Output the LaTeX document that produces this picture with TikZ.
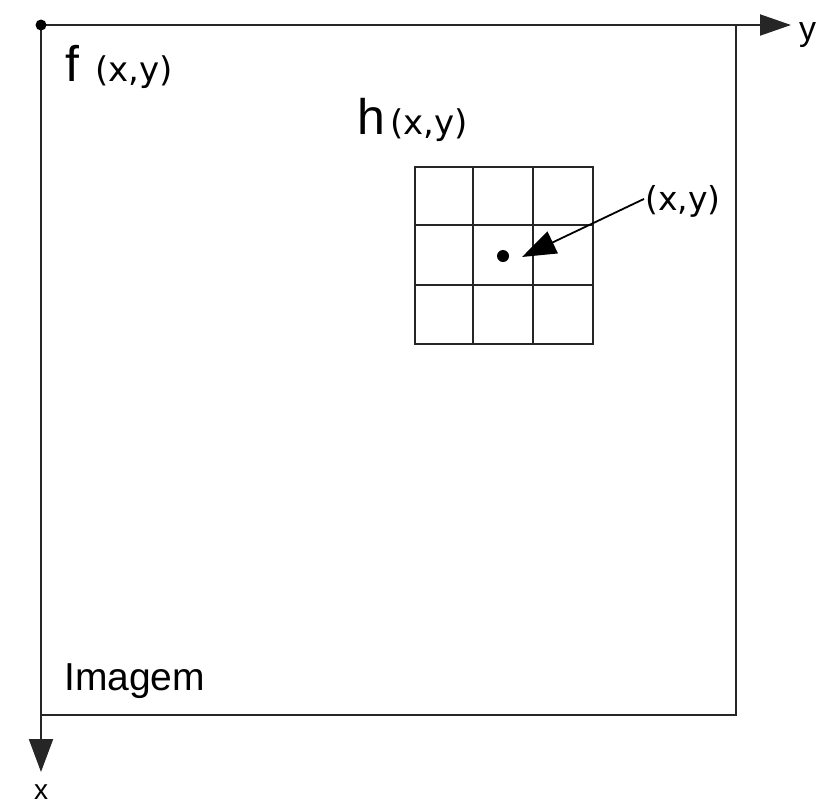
\documentclass[tikz,border=0pt]{standalone}
\usepackage{fontspec}
\setmainfont{Liberation Sans}
\newfontfamily\argfont{DejaVu Sans}
\usetikzlibrary{arrows.meta}
\begin{document}
\begin{tikzpicture}[x=1pt,y=-1pt,
  frame/.style={line width=2.4pt,black!85},
  gridline/.style={line width=2pt,black!85},
  axis/.style={line width=2pt,black!85},
  lbl/.style={inner sep=0pt,anchor=base west}]
\useasboundingbox (0,0) rectangle (819,807);
% origin and frame
\coordinate (O) at (41,25);
\coordinate (TR) at (736,25);
\coordinate (BR) at (736,715);
\coordinate (BL) at (41,715);
\coordinate (Yend) at (791,25);
\coordinate (Xend) at (41,772);
\draw[frame] (TR) -- (BR) -- (BL);
\draw[axis,-{Triangle[length=31pt,width=21pt]}] (O) -- (Yend);
\draw[axis,-{Triangle[length=33pt,width=24pt]}] (O) -- (Xend);
\fill (O) circle (5.5);
\node[lbl,font=\fontsize{34}{34}\selectfont] (ylab) at (799,40) {y};
\node[lbl,font=\fontsize{28}{28}\selectfont] (xlab) at (34,799) {x};
% labels
\node[lbl] (flab) at (65,81) {\fontsize{50}{50}\selectfont f\hspace{16pt}\argfont\fontsize{34}{34}\selectfont(x,y)};
\node[lbl] (hlab) at (357,134) {\fontsize{50}{50}\selectfont h\hspace{5pt}\argfont\fontsize{34}{34}\selectfont(x,y)};
\node[lbl,font=\fontsize{39}{39}\selectfont] (img) at (64,690) {Imagem};
% grid
\draw[gridline] (415,167) rectangle (593,344);
\draw[gridline] (473,167) -- (473,344);
\draw[gridline] (533,167) -- (533,344);
\draw[gridline] (415,225) -- (593,225);
\draw[gridline] (415,285) -- (593,285);
\fill (503,256) circle (6);
% pointer
\node[lbl,font=\argfont\fontsize{33}{33}\selectfont] (xy) at (645,210) {(x,y)};
\coordinate (ptr) at (522,257);
\draw[line width=1.8pt,-{Triangle[length=34pt,width=24pt]}] (xy.west) ++(-1,-2) -- (ptr);
\end{tikzpicture}
\end{document}
